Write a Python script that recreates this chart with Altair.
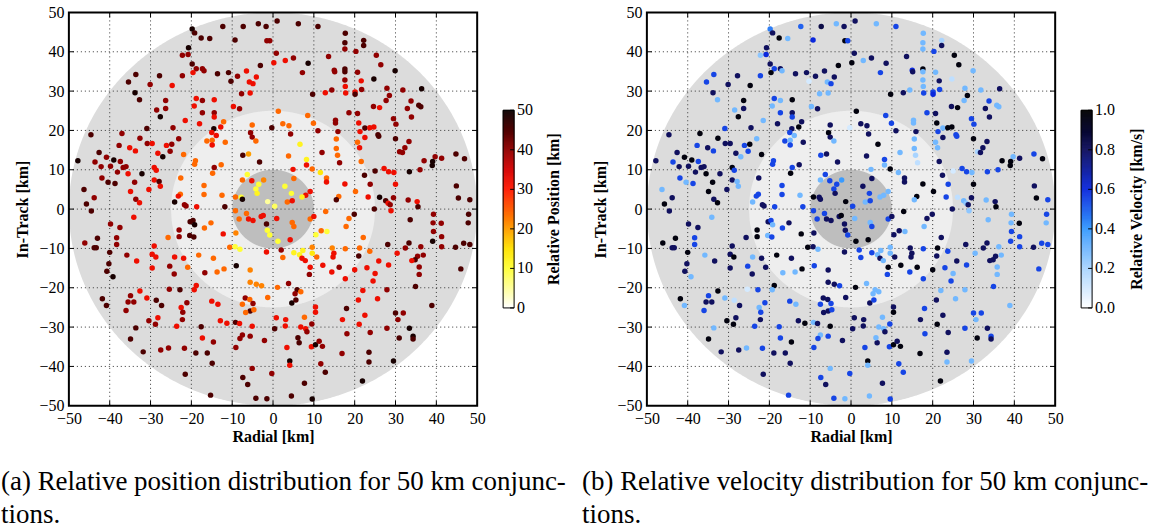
import altair as alt
import pandas as pd
import numpy as np

FONT = "Liberation Serif"

# ---------------- data ----------------
# quadrant 1 : radial < 0, in-track > 0
q1_radial = [
    -19.8, -19.2, -12.3, -7.3, -3.6, -1.7, -17.6, -15.5, -9.3, -1.5,
    -0.8, -20.7, -22.2, -20.8, -3.1, -19.8, -18.8, -17.3, -16.9, -19.6,
    -33.6, -27.8, -22.2, -13.6, -10.9, -10.3, -8.7, -6.5, -4.1, -5.8,
    -4.9, -35.4, -30.1, -24.7, -33.8, -32.7, -26.3, -26.3, -28.5, -27.6,
    -7.7, -5.6, -18.8, -17.3, -14.4, -19.3, -17.3, -14.4, -14.4, -9.7,
    -8.2, -21.5, -24.5, -23.1, -18.0, -30.9, -37.0, -44.6, -32.6, -30.8,
    -29.6, -37.7, -35.1, -33.7, -42.6, -28.2, -26.1, -24.8, -27.0, -25.2,
    -21.9, -40.8, -39.0, -47.8, -43.6, -37.4, -42.1, -39.8, -36.7, -36.0,
    -38.1, -35.5, -32.1, -29.1, -28.6, -29.1, -27.9, -27.6, -41.9, -40.4,
    -38.7, -33.9, -30.4, -34.9, -46.3, -43.8, -33.6, -32.7, -45.7, -44.5,
    -24.1, -22.7, -23.2, -21.7, -21.3, -18.7, -16.9, -12.5, -11.8, -16.9,
    -14.4, -12.7, -14.8, -19.2, -19.0, -22.6, -14.5, -12.8, -12.1, -15.0,
    -13.9, -16.2, -14.9, -14.9, -11.7, -5.1, -5.5, -5.1, -4.2, -0.3,
    -7.4, -6.0, -3.3, -6.3, -7.5, -5.2, -3.5, -2.3, -4.2, -3.9,
    -7.8, -7.5, -1.3, -9.2, -9.2, -6.5]
q1_intrack = [
    45.8, 44.8, 46.4, 46.4, 47.1, 46.4, 43.5, 43.4, 43.0, 42.8,
    42.8, 41.0, 39.1, 39.3, 36.5, 36.9, 35.7, 35.7, 35.2, 34.7,
    34.2, 33.9, 33.9, 34.4, 34.7, 32.5, 33.8, 35.1, 33.6, 32.3,
    31.9, 32.3, 31.7, 31.4, 29.6, 27.8, 27.6, 25.6, 25.2, 23.5,
    29.3, 29.5, 28.1, 27.6, 27.8, 26.2, 24.5, 24.5, 23.4, 26.1,
    25.5, 22.5, 20.7, 17.9, 21.7, 20.5, 19.2, 18.9, 18.0, 16.7,
    16.7, 16.2, 15.6, 14.8, 14.4, 14.2, 16.2, 16.5, 13.3, 14.7,
    13.9, 13.2, 12.5, 12.3, 12.0, 12.1, 10.8, 10.9, 10.6, 10.8,
    9.4, 9.0, 9.0, 10.6, 9.9, 7.4, 7.0, 5.8, 7.9, 6.8,
    6.5, 6.8, 5.0, 4.5, 5.0, 2.9, 2.5, 1.6, 1.3, -0.5,
    1.8, 3.8, 3.3, 1.1, 0.8, 0.6, 3.7, 3.5, 0.6, 6.0,
    10.6, 11.3, 9.1, 11.4, 12.3, 7.9, 20.4, 20.9, 22.2, 19.5,
    18.7, 17.3, 17.5, 16.3, 17.0, 21.4, 19.4, 18.3, 17.3, 20.7,
    13.7, 14.0, 12.0, 8.8, 7.4, 7.2, 6.3, 7.4, 5.1, 4.0,
    3.0, 2.5, 1.9, 3.1, -0.4, -1.1]
q1_pos = [
    49, 45, 45, 45, 45, 45, 45, 45, 45, 40,
    40, 49, 40, 40, 45, 45, 40, 40, 40, 32,
    45, 45, 40, 45, 45, 45, 40, 32, 32, 32,
    32, 45, 40, 32, 49, 45, 40, 40, 40, 49,
    40, 32, 32, 40, 32, 32, 40, 40, 32, 32,
    40, 32, 40, 40, 32, 45, 40, 45, 40, 40,
    32, 40, 32, 32, 45, 32, 32, 40, 49, 40,
    24, 40, 49, 49, 40, 40, 40, 40, 40, 40,
    40, 32, 49, 32, 32, 32, 45, 32, 40, 45,
    45, 40, 32, 32, 45, 40, 40, 32, 45, 45,
    49, 24, 32, 40, 40, 32, 24, 24, 45, 24,
    40, 24, 24, 24, 24, 24, 49, 32, 24, 32,
    32, 24, 24, 32, 24, 24, 40, 40, 24, 45,
    45, 20, 45, 10, 24, 32, 10, 22, 10, 12,
    10, 49, 5, 24, 24, 24]
q1_vel = [
    0.45, 0.8, 0.5, 0.85, 0.3, 0.8, 0.97, 0.3, 0.6, 0.97,
    0.55, 0.8, 0.25, 0.6, 0.97, 0.8, 0.55, 0.8, 0.3, 0.97,
    0.55, 0.8, 0.55, 0.8, 0.8, 0.1, 0.8, 0.8, 0.8, 0.3,
    0.55, 0.55, 0.8, 0.97, 0.8, 0.3, 0.97, 0.8, 0.3, 0.97,
    0.3, 0.3, 0.55, 0.3, 0.97, 0.3, 0.55, 0.8, 0.55, 0.3,
    0.8, 0.3, 0.8, 0.3, 0.8, 0.55, 0.97, 0.8, 0.97, 0.8,
    0.8, 0.55, 0.8, 0.55, 0.8, 0.8, 0.55, 0.97, 0.3, 0.55,
    0.97, 0.97, 0.97, 0.8, 0.55, 0.55, 0.8, 0.8, 0.8, 0.8,
    0.8, 0.97, 0.8, 0.97, 0.55, 0.8, 0.3, 0.3, 0.55, 0.3,
    0.55, 0.97, 0.8, 0.97, 0.3, 0.8, 0.8, 0.97, 0.97, 0.8,
    0.3, 0.55, 0.55, 0.8, 0.8, 0.55, 0.55, 0.3, 0.55, 0.55,
    0.55, 0.8, 0.97, 0.55, 0.55, 0.8, 0.8, 0.97, 0.8, 0.55,
    0.3, 0.55, 0.3, 0.55, 0.8, 0.8, 0.97, 0.8, 0.3, 0.1,
    0.55, 0.8, 0.8, 0.55, 0.3, 0.55, 0.55, 0.4, 0.55, 0.8,
    0.8, 0.8, 0.97, 0.97, 0.55, 0.55]

# quadrant 2 : radial > 0, in-track > 0
q2_radial = [
    1.0, 6.2, 11.0, 17.7, 22.2, 22.2, 17.6, 17.6, 0.8, 0.2,
    3.0, 5.0, 8.6, 13.6, 20.3, 25.3, 26.4, 15.0, 15.1, 17.6,
    17.6, 20.7, 17.6, 17.7, 17.8, 21.6, 24.7, 29.9, 7.2, 9.7,
    12.8, 14.4, 20.1, 20.1, 21.7, 27.9, 28.5, 27.7, 31.8, 36.4,
    33.8, 35.7, 36.2, 32.9, 33.9, 24.6, 26.1, 18.6, 20.7, 15.3,
    15.3, 15.9, 21.0, 22.5, 23.7, 24.7, 21.3, 22.5, 25.7, 25.9,
    30.0, 29.5, 30.1, 33.3, 32.3, 31.0, 31.7, 39.7, 41.3, 39.1,
    39.0, 37.0, 44.8, 46.9, 44.9, 45.4, 48.2, 47.9, 35.3, 35.5,
    33.1, 39.3, 27.6, 28.2, 28.7, 29.5, 26.1, 23.3, 20.2, 23.8,
    22.4, 25.0, 27.2, 28.3, 29.6, 30.0, 33.4, 36.0, 17.6, 16.1,
    15.5, 19.9, 24.8, 28.9, 12.9, 15.5, 15.5, 15.8, 16.3, 20.7,
    21.2, 21.6, 12.0, 11.0, 9.9, 8.5, 6.6, 8.2, 8.2, 9.6,
    11.6, 13.1, 13.1, 9.1, 8.0, 2.4, 3.9, 4.3, 1.3, 3.8,
    4.9, 5.1, 2.9, 4.5, 3.5, 4.7, 7.1, 0.4]
q2_intrack = [
    47.8, 47.1, 46.4, 44.7, 42.9, 41.6, 42.3, 40.7, 39.6, 37.2,
    37.8, 38.4, 37.1, 38.8, 40.1, 39.1, 36.7, 35.3, 34.9, 35.6,
    34.9, 34.8, 32.8, 31.2, 29.5, 32.6, 33.1, 35.2, 34.7, 29.2,
    29.6, 30.3, 29.8, 29.2, 30.4, 30.7, 28.9, 27.6, 30.3, 30.6,
    27.5, 26.4, 26.0, 25.6, 23.4, 26.1, 25.8, 24.5, 24.3, 22.6,
    21.9, 19.7, 21.9, 20.6, 20.7, 20.9, 19.7, 18.2, 18.9, 18.5,
    17.9, 23.0, 21.6, 17.2, 15.6, 14.6, 14.4, 13.3, 12.9, 12.1,
    11.1, 12.3, 14.0, 12.8, 5.9, 2.8, 2.4, -1.3, 1.9, 0.6,
    2.3, -1.3, 2.1, 1.5, 1.1, 2.9, 3.0, 3.1, 4.5, 6.3,
    8.6, 9.7, 10.3, 9.5, 9.3, 6.3, 9.5, 10.0, 6.4, 3.2,
    2.4, -1.3, 0.0, -0.4, -0.6, 17.8, 15.4, 13.7, 11.8, 17.0,
    15.6, 12.1, 14.4, 19.9, 21.8, 23.8, 16.5, 12.6, 11.2, 10.2,
    9.3, 7.9, 6.9, 4.5, 3.5, 21.7, 21.2, 19.1, 24.9, 13.5,
    10.1, 7.8, 5.8, 4.0, 1.8, 2.1, 3.1, 0.7]
q2_pos = [
    45, 45, 45, 45, 45, 45, 45, 40, 40, 32,
    32, 40, 49, 40, 40, 40, 40, 40, 40, 45,
    45, 40, 40, 32, 32, 32, 49, 49, 40, 45,
    32, 40, 32, 45, 40, 40, 40, 40, 40, 49,
    40, 45, 45, 40, 40, 40, 32, 40, 40, 40,
    40, 40, 32, 45, 32, 32, 32, 32, 45, 45,
    45, 40, 40, 40, 40, 40, 40, 40, 40, 49,
    49, 40, 45, 45, 45, 45, 45, 45, 32, 45,
    40, 40, 45, 32, 40, 40, 49, 32, 24, 40,
    45, 45, 32, 32, 32, 32, 49, 40, 32, 24,
    45, 45, 45, 32, 24, 24, 24, 24, 40, 24,
    32, 24, 40, 40, 24, 24, 12, 12, 32, 24,
    14, 24, 32, 32, 32, 24, 24, 40, 24, 24,
    32, 24, 10, 10, 24, 32, 12, 8]
q2_vel = [
    0.8, 0.3, 0.55, 0.3, 0.2, 0.8, 0.3, 0.3, 0.8, 0.97,
    0.3, 0.8, 0.8, 0.8, 0.55, 0.97, 0.97, 0.6, 0.8, 0.97,
    0.3, 0.3, 0.3, 0.3, 0.55, 0.8, 0.15, 0.3, 0.55, 0.97,
    0.8, 0.3, 0.55, 0.6, 0.55, 0.3, 0.97, 0.3, 0.3, 0.8,
    0.55, 0.3, 0.3, 0.8, 0.8, 0.8, 0.97, 0.55, 0.8, 0.3,
    0.3, 0.8, 0.97, 0.3, 0.97, 0.97, 0.55, 0.8, 0.55, 0.55,
    0.97, 0.55, 0.55, 0.8, 0.8, 0.2, 0.8, 0.3, 0.8, 0.97,
    0.97, 0.97, 0.55, 0.97, 0.8, 0.97, 0.55, 0.55, 0.8, 0.97,
    0.3, 0.3, 0.3, 0.25, 0.8, 0.8, 0.15, 0.55, 0.97, 0.55,
    0.8, 0.1, 0.55, 0.55, 0.3, 0.97, 0.55, 0.55, 0.97, 0.97,
    0.3, 0.8, 0.8, 0.25, 0.97, 0.3, 0.3, 0.2, 0.15, 0.3,
    0.3, 0.8, 0.3, 0.8, 0.55, 0.55, 0.97, 0.55, 0.3, 0.97,
    0.3, 0.8, 0.8, 0.3, 0.3, 0.8, 0.8, 0.8, 0.97, 0.8,
    0.3, 0.8, 0.8, 0.55, 0.3, 0.55, 0.3, 0.55]

# quadrant 3 : radial < 0, in-track < 0
q3_radial = [
    -39.8, -37.5, -34.1, -46.1, -43.8, -43.3, -43.0, -40.0, -38.3, -38.3,
    -40.2, -40.7, -39.2, -35.8, -33.4, -41.8, -40.8, -34.9, -35.5, -34.1,
    -32.6, -36.0, -33.6, -34.9, -31.8, -30.9, -28.6, -27.3, -28.2, -30.4,
    -28.8, -27.5, -25.6, -25.4, -22.8, -23.6, -22.5, -22.1, -22.2, -21.1,
    -21.7, -21.5, -18.9, -17.6, -17.3, -14.6, -16.1, -14.9, -15.3, -24.2,
    -25.3, -24.1, -21.9, -20.9, -29.6, -28.7, -29.6, -29.1, -20.4, -19.4,
    -20.3, -19.6, -19.2, -23.0, -23.0, -25.7, -16.8, -15.2, -12.2, -10.6,
    -9.1, -9.3, -8.1, -18.2, -14.6, -12.0, -13.7, -16.7, -18.8, -19.3,
    -15.0, -13.5, -12.9, -11.3, -9.2, -8.2, -7.5, -8.1, -5.6, -9.1,
    -5.1, -2.1, -7.4, -6.2, -5.1, -4.2, -1.5, -9.0, -5.6, -4.1,
    -2.8, -5.6, -6.8, -5.7, -4.9, -5.6, -6.7, -7.5, -4.7, -1.3,
    -1.6, -8.3, -6.0, -4.9, -1.4, -0.8, -1.6, -2.9, -2.4]
q3_intrack = [
    -3.8, -4.7, -2.1, -8.6, -9.8, -9.8, -7.4, -11.0, -7.3, -9.0,
    -13.9, -15.8, -17.2, -11.7, -13.2, -22.8, -24.5, -22.0, -23.6, -23.6,
    -20.8, -25.8, -30.2, -33.0, -36.3, -22.6, -23.2, -24.5, -27.6, -28.4,
    -29.3, -35.8, -35.3, -20.4, -20.5, -29.8, -25.0, -26.2, -28.1, -23.8,
    -35.4, -42.0, -36.6, -29.9, -32.8, -33.8, -36.6, -39.2, -47.3, -16.5,
    -14.5, -12.2, -12.5, -14.8, -11.5, -12.2, -15.0, -9.4, -6.7, -7.1,
    -3.2, -2.9, -4.0, -5.3, -7.0, -7.2, -4.8, -3.5, -6.3, -9.7,
    -6.1, -9.6, -10.2, -11.7, -12.5, -15.2, -16.0, -16.2, -19.4, -20.5,
    -23.4, -24.2, -28.4, -29.0, -28.8, -29.1, -32.0, -32.9, -32.3, -35.2,
    -29.8, -33.4, -42.8, -44.6, -40.5, -48.1, -48.2, -14.4, -15.5, -19.1,
    -19.5, -18.6, -22.6, -23.0, -24.0, -25.9, -26.3, -24.2, -25.6, -22.5,
    -10.9, -2.5, -2.5, -2.9, -5.4, -6.6, -3.8, -1.9, -1.6]
q3_pos = [
    40, 40, 32, 40, 45, 45, 45, 45, 40, 40,
    45, 45, 49, 40, 32, 45, 45, 40, 40, 40,
    32, 40, 45, 45, 45, 32, 45, 45, 32, 40,
    40, 40, 40, 40, 45, 32, 32, 40, 40, 40,
    40, 45, 45, 45, 32, 40, 45, 45, 45, 40,
    40, 32, 32, 24, 32, 32, 32, 32, 45, 45,
    45, 45, 49, 40, 40, 24, 24, 24, 32, 24,
    22, 10, 10, 24, 24, 24, 24, 40, 32, 32,
    32, 32, 32, 32, 45, 32, 40, 40, 40, 40,
    32, 40, 45, 45, 40, 45, 45, 49, 22, 22,
    22, 22, 40, 24, 40, 45, 24, 24, 24, 24,
    32, 24, 32, 32, 10, 10, 45, 32, 32]
q3_vel = [
    0.8, 0.8, 0.3, 0.97, 0.8, 0.8, 0.97, 0.97, 0.55, 0.55,
    0.8, 0.8, 0.3, 0.3, 0.8, 0.97, 0.3, 0.55, 0.8, 0.8,
    0.97, 0.55, 0.3, 0.97, 0.8, 0.3, 0.15, 0.8, 0.8, 0.97,
    0.97, 0.8, 0.3, 0.1, 0.55, 0.55, 0.3, 0.55, 0.8, 0.55,
    0.55, 0.8, 0.8, 0.55, 0.55, 0.97, 0.8, 0.8, 0.55, 0.8,
    0.55, 0.3, 0.8, 0.8, 0.8, 0.97, 0.8, 0.8, 0.3, 0.55,
    0.8, 0.55, 0.3, 0.97, 0.97, 0.8, 0.55, 0.8, 0.97, 0.97,
    0.8, 0.8, 0.3, 0.97, 0.8, 0.97, 0.3, 0.3, 0.97, 0.3,
    0.55, 0.3, 0.8, 0.97, 0.3, 0.8, 0.3, 0.55, 0.55, 0.55,
    0.97, 0.8, 0.55, 0.8, 0.3, 0.55, 0.3, 0.55, 0.8, 0.8,
    0.55, 0.8, 0.8, 0.8, 0.55, 0.8, 0.8, 0.55, 0.55, 0.8,
    0.8, 0.55, 0.8, 0.8, 0.8, 0.55, 0.8, 0.8, 0.97]

# quadrant 4 : radial > 0, in-track < 0
q4_radial = [
    0.9, 4.7, 5.1, 9.1, 10.0, 11.8, 13.2, 10.5, 4.2, 1.2,
    2.0, 2.4, 5.1, 6.5, 7.3, 7.1, 7.9, 9.6, 9.6, 10.7,
    9.1, 8.9, 12.2, 14.5, 14.9, 14.7, 16.2, 14.4, 17.7, 17.7,
    20.0, 21.2, 21.0, 23.7, 23.0, 25.0, 24.5, 25.9, 28.3, 28.1,
    30.4, 27.9, 25.6, 22.0, 20.9, 22.5, 21.1, 23.8, 17.0, 18.0,
    18.1, 16.9, 23.5, 23.5, 21.9, 27.9, 30.0, 30.6, 31.9, 30.9,
    33.4, 34.3, 34.3, 29.5, 34.9, 38.9, 33.6, 39.2, 39.3, 39.1,
    41.2, 41.3, 41.3, 44.7, 46.7, 48.2, 47.8, 46.0, 36.2, 36.8,
    35.4, 34.8, 34.0, 35.8, 35.8, 32.4, 33.3, -0.3, 0.4, 4.1,
    4.1, 4.5, 7.7, 9.6, 6.4, 6.1, 3.4, 0.8, 3.1, 3.0,
    6.8, 8.0, 8.3, 9.5, 7.7, 10.4, 10.4, 9.4, 10.4, 11.3,
    12.1, 11.7, 12.8, 5.9, 5.4, 6.8, 4.6, 5.6, 3.8, 1.1,
    18.6, 17.9, 22.1]
q4_intrack = [
    -2.4, -3.4, -4.4, -2.5, -1.9, -5.5, -5.7, -6.5, -7.8, -8.2,
    -10.4, -12.3, -11.1, -11.6, -10.5, -12.5, -13.1, -9.7, -11.2, -12.2,
    -14.8, -16.6, -14.3, -9.9, -11.2, -12.2, -14.8, -16.0, -10.1, -17.7,
    -15.4, -9.9, -11.9, -10.7, -14.9, -16.4, -18.3, -13.2, -14.2, -9.0,
    -11.2, -20.5, -22.8, -20.7, -23.1, -27.0, -29.3, -31.4, -28.1, -25.3,
    -31.7, -36.7, -36.4, -38.9, -43.7, -30.3, -26.4, -28.1, -26.4, -32.8,
    -30.3, -32.3, -33.0, -38.6, -19.7, -24.5, -2.7, -3.5, -5.7, -8.2,
    -3.6, -7.0, -9.6, -9.7, -8.7, -9.0, -3.5, -15.2, -9.6, -11.7,
    -12.0, -12.9, -13.1, -14.7, -16.6, -9.9, -8.6, -41.8, -30.4, -38.6,
    -39.7, -47.5, -44.3, -48.3, -34.0, -32.7, -35.2, -27.6, -28.1, -29.7,
    -30.0, -30.4, -31.2, -29.2, -27.5, -24.9, -26.2, -35.0, -34.5, -33.6,
    -34.9, -39.3, -41.5, -20.5, -21.5, -21.0, -23.9, -23.1, -18.9, -19.9,
    -2.4, -4.4, -7.2]
q4_pos = [
    32, 24, 24, 24, 32, 24, 10, 10, 32, 10,
    40, 24, 12, 12, 12, 32, 32, 22, 14, 24,
    32, 40, 32, 22, 32, 32, 40, 32, 24, 32,
    32, 24, 45, 24, 32, 32, 32, 32, 32, 45,
    32, 40, 32, 32, 32, 32, 32, 40, 32, 45,
    40, 40, 45, 45, 49, 40, 45, 40, 40, 45,
    49, 49, 45, 49, 45, 45, 45, 40, 40, 49,
    40, 40, 40, 45, 45, 45, 45, 45, 40, 40,
    40, 45, 32, 40, 40, 40, 45, 40, 45, 49,
    32, 45, 45, 49, 45, 45, 32, 32, 32, 32,
    32, 32, 40, 40, 24, 32, 32, 32, 49, 40,
    40, 40, 45, 45, 40, 24, 49, 45, 40, 24,
    24, 24, 24]
q4_vel = [
    0.3, 0.3, 0.55, 0.55, 0.8, 0.8, 0.3, 0.8, 0.97, 0.97,
    0.55, 0.55, 0.55, 0.3, 0.3, 0.8, 0.3, 0.3, 0.3, 0.8,
    0.97, 0.55, 0.97, 0.8, 0.8, 0.8, 0.97, 0.55, 0.55, 0.55,
    0.97, 0.97, 0.8, 0.55, 0.55, 0.3, 0.55, 0.8, 0.55, 0.8,
    0.3, 0.3, 0.3, 0.3, 0.8, 0.8, 0.97, 0.8, 0.8, 0.55,
    0.55, 0.97, 0.8, 0.3, 0.97, 0.55, 0.55, 0.3, 0.55, 0.97,
    0.8, 0.55, 0.8, 0.3, 0.55, 0.3, 0.3, 0.3, 0.55, 0.55,
    0.97, 0.55, 0.55, 0.8, 0.55, 0.55, 0.3, 0.55, 0.3, 0.3,
    0.8, 0.8, 0.8, 0.3, 0.3, 0.8, 0.8, 0.55, 0.8, 0.97,
    0.3, 0.3, 0.8, 0.55, 0.8, 0.3, 0.55, 0.8, 0.8, 0.8,
    0.3, 0.3, 0.8, 0.55, 0.3, 0.8, 0.97, 0.55, 0.97, 0.8,
    0.97, 0.55, 0.55, 0.3, 0.3, 0.3, 0.8, 0.55, 0.3, 0.97,
    0.8, 0.3, 0.8]

# axes / colorbars / background
tick_vals = [-50, -40, -30, -20, -10, 0, 10, 20, 30, 40, 50]
inner_ticks = [-40, -30, -20, -10, 0, 10, 20, 30, 40]
ring_radii = [50, 25, 10]
ring_colors = ["#dcdcdc", "#eeeeee", "#bebebe"]
pos_ticks = [0, 10, 20, 30, 40, 50]
pos_labels = ["0", "10", "20", "30", "40", "50"]
vel_ticks = [0.0, 0.2, 0.4, 0.6, 0.8, 1.0]
vel_labels = ["0.0", "0.2", "0.4", "0.6", "0.8", "1.0"]
caption_a = "(a) Relative position distribution for 50 km conjunc-\ntions."
caption_b = "(b) Relative velocity distribution for 50 km conjunc-\ntions."

# colour maps (matplotlib "hot" reversed, and a white-blue-black map)
pos_domain = [0, 5, 10, 15, 20, 25, 30, 35, 40, 45, 50]
pos_range = ["#ffffff", "#ffff9b", "#ffff36", "#ffe100", "#ff9e00", "#ff5a00",
             "#ff1800", "#d40000", "#910000", "#4d0000", "#0b0000"]
vel_domain = [0.0, 0.2, 0.4, 0.6, 0.8, 1.0]
vel_range = ["#ffffff", "#a9d4ff", "#3a9bff", "#0a28dc", "#10105e", "#000000"]

# ---------------- build ----------------
for a, b, c, d in [(q1_radial, q1_intrack, q1_pos, q1_vel), (q2_radial, q2_intrack, q2_pos, q2_vel),
                   (q3_radial, q3_intrack, q3_pos, q3_vel), (q4_radial, q4_intrack, q4_pos, q4_vel)]:
    assert len(a) == len(b) == len(c) == len(d), (len(a), len(b), len(c), len(d))

pts = pd.DataFrame({
    "radial": q1_radial + q2_radial + q3_radial + q4_radial,
    "intrack": q1_intrack + q2_intrack + q3_intrack + q4_intrack,
    "pos": q1_pos + q2_pos + q3_pos + q4_pos,
    "vel": q1_vel + q2_vel + q3_vel + q4_vel,
})

W, H = 409, 394
CB_TOP, CB_BOT = 98, 296


def disk(r):
    xs = np.linspace(-r, r, 301)
    ys = np.sqrt(np.clip(r * r - xs * xs, 0, None))
    return pd.DataFrame({"x": xs, "lo": -ys, "hi": ys})


def panel(field, dom, rng, caption, cap_dx):
    xsc = alt.Scale(domain=[-50, 50], nice=False, zero=False)
    ysc = alt.Scale(domain=[-50, 50], nice=False, zero=False)
    common = dict(values=tick_vals, grid=False, ticks=False, domain=False,
                  labelFont=FONT, labelFontSize=16, labelColor="black",
                  titleFont=FONT, titleFontSize=16, titleFontWeight="bold",
                  titleColor="black", labelFlush=False, labelOverlap=False)
    xax = alt.Axis(title="Radial [km]", labelPadding=5, titlePadding=2, **common)
    yax = alt.Axis(title="In-Track [km]", labelPadding=5, titlePadding=8, **common)

    def X(f):
        return alt.X(f, scale=xsc, axis=xax)

    def Y(f):
        return alt.Y(f, scale=ysc, axis=yax)

    layers = []
    for r, c in zip(ring_radii, ring_colors):
        layers.append(alt.Chart(disk(r)).mark_area(color=c, opacity=1).encode(
            x=X("x:Q"), y=Y("lo:Q"), y2="hi:Q"))
    tdf = pd.DataFrame({"v": inner_ticks})
    grid_style = dict(color="#333333", strokeDash=[1, 3], strokeWidth=1)
    layers.append(alt.Chart(tdf).mark_rule(**grid_style).encode(
        x=X("v:Q"), y=alt.value(0), y2=alt.value(H)))
    layers.append(alt.Chart(tdf).mark_rule(**grid_style).encode(
        y=Y("v:Q"), x=alt.value(0), x2=alt.value(W)))
    tick_style = dict(color="black", strokeWidth=1)
    layers.append(alt.Chart(tdf).mark_rule(**tick_style).encode(
        y=Y("v:Q"), x=alt.value(0), x2=alt.value(5)))
    layers.append(alt.Chart(tdf).mark_rule(**tick_style).encode(
        y=Y("v:Q"), x=alt.value(W - 5), x2=alt.value(W)))
    layers.append(alt.Chart(tdf).mark_rule(**tick_style).encode(
        x=X("v:Q"), y=alt.value(0), y2=alt.value(5)))
    layers.append(alt.Chart(tdf).mark_rule(**tick_style).encode(
        x=X("v:Q"), y=alt.value(H - 5), y2=alt.value(H)))
    layers.append(alt.Chart(pts).mark_circle(size=30, opacity=1).encode(
        x=X("radial:Q"), y=Y("intrack:Q"),
        color=alt.Color(f"{field}:Q", scale=alt.Scale(domain=dom, range=rng, interpolate="rgb"),
                        legend=None)))
    one = pd.DataFrame({"t": [caption]})
    layers.append(alt.Chart(one).mark_rect(fill="white", fillOpacity=0, stroke="black",
                                           strokeWidth=2).encode(
        x=alt.value(0), x2=alt.value(W), y=alt.value(0), y2=alt.value(H)))
    layers.append(alt.Chart(one).mark_text(align="left", baseline="alphabetic", font=FONT,
                                           fontSize=27, lineBreak="\n", lineHeight=33,
                                           color="black").encode(
        x=alt.value(cap_dx), y=alt.value(478), text="t:N"))
    return alt.layer(*layers).properties(width=W, height=H)


def colorbar(dom, rng, ticks, labels, title, cw, title_x, step):
    ysc = alt.Scale(domain=[dom[0], dom[-1]], range=[CB_BOT, CB_TOP], nice=False, zero=False)
    vals = np.arange(dom[0], dom[-1], step)
    g = pd.DataFrame({"v": vals, "v2": vals + step})
    csc = alt.Scale(domain=dom, range=rng, interpolate="rgb")
    grad = alt.Chart(g).mark_rect(strokeWidth=0.6).encode(
        x=alt.value(26), x2=alt.value(37),
        y=alt.Y("v:Q", scale=ysc, axis=None), y2="v2:Q",
        color=alt.Color("v:Q", scale=csc, legend=None),
        stroke=alt.Stroke("v:Q", scale=csc, legend=None))
    box = alt.Chart(pd.DataFrame({"lo": [dom[0]], "hi": [dom[-1]]})).mark_rect(
        fill="white", fillOpacity=0, stroke="black", strokeWidth=1).encode(
        x=alt.value(26), x2=alt.value(37), y=alt.Y("lo:Q", scale=ysc, axis=None), y2="hi:Q")
    tk = pd.DataFrame({"v": ticks, "lab": labels})
    tmarks = alt.Chart(tk).mark_rule(color="black", strokeWidth=1).encode(
        y=alt.Y("v:Q", scale=ysc, axis=None), x=alt.value(33), x2=alt.value(37))
    txt = alt.Chart(tk).mark_text(align="left", baseline="middle", font=FONT, fontSize=16,
                                  color="black").encode(
        y=alt.Y("v:Q", scale=ysc, axis=None), x=alt.value(40), text="lab:N")
    ttl = alt.Chart(pd.DataFrame({"t": [title]})).mark_text(
        angle=270, align="center", baseline="middle", font=FONT, fontSize=16,
        fontWeight="bold", color="black").encode(
        x=alt.value(title_x), y=alt.value((CB_TOP + CB_BOT) / 2), text="t:N")
    return alt.layer(grad, box, tmarks, txt, ttl).properties(width=cw, height=H)


left = panel("pos", pos_domain, pos_range, caption_a, -68)
cb_left = colorbar(pos_domain, pos_range, pos_ticks, pos_labels, "Relative Position [km]",
                   170, 77, 0.25)
right = panel("vel", vel_domain, vel_range, caption_b, -65)
cb_right = colorbar(vel_domain, vel_range, vel_ticks, vel_labels, "Relative Velocity [km/s]",
                    98, 82, 0.005)

chart = alt.hconcat(left, cb_left, right, cb_right, spacing=0, bounds="flush").resolve_scale(
    x="independent", y="independent", color="independent", stroke="independent"
).properties(
    padding={"left": 0, "top": 3, "right": 0, "bottom": 0},
    background="white",
).configure_view(stroke="transparent")

chart.save("out.html", embed_options={"renderer": "svg", "actions": False})
